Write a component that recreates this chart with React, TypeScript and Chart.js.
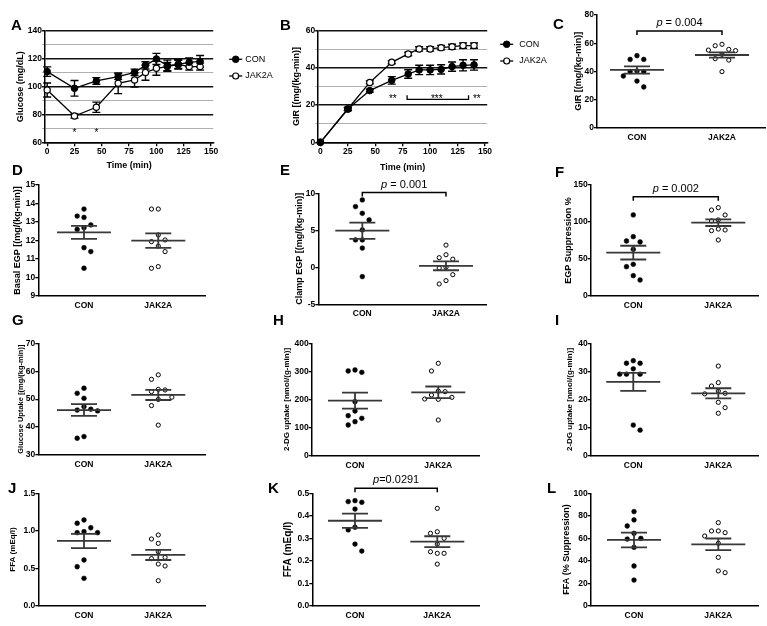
import React, { useEffect, useRef } from 'react';
import { Chart, registerables } from 'chart.js';

Chart.register(...registerables);

const FONT = "'Liberation Sans', Arial, Helvetica, sans-serif";
Chart.defaults.font.family = FONT;
Chart.defaults.color = '#000';

// ================= DATA =================
const GROUPS = ['CON', 'JAK2A'];
const TIME = [0, 25, 45, 65, 80, 90, 100, 110, 120, 130, 140];
const TIME_TICKS = [0, 25, 50, 75, 100, 125, 150];

// A: glucose during clamp
const glucoseCon = [110.8, 98.8, 104.1, 107.2, 110.3, 115.3, 119.9, 115.1, 116.0, 117.5, 118.2];
const glucoseConSem = [3.4, 5.6, 2.4, 2.0, 2.3, 2.6, 4.0, 4.0, 3.4, 3.2, 4.2];
const glucoseJak = [97.6, 78.9, 85.2, 102.4, 104.8, 110.1, 113.2, 114.4, 116.0, 114.4, 114.4];
const glucoseJakSem = [5.0, 1.5, 3.7, 7.4, 5.0, 5.5, 5.0, 3.0, 3.0, 2.5, 2.5];
const glucoseMajorTicks = [60, 80, 100, 120, 140];
const glucoseMinorTicks = [70, 90, 110, 130];
const glucoseStarTimes = [25, 45];
const glucoseStarTexts = ['*', '*'];
const glucoseStarLevel = 68.4;

// B: GIR time course
const girCourseCon = [0, 17.9, 27.8, 33.3, 36.7, 38.9, 38.9, 39.2, 40.7, 41.4, 41.6];
const girCourseConSem = [0, 0.8, 0.8, 2.0, 2.3, 2.5, 2.5, 2.5, 2.5, 3.0, 2.8];
const girCourseJak = [0, 17.9, 32.2, 43.0, 47.5, 50.2, 50.2, 50.9, 51.4, 52.0, 52.0];
const girCourseJakSem = [0, 0.8, 0.8, 0.8, 1.0, 1.2, 1.2, 1.2, 1.3, 1.4, 1.4];
const girCourseMajorTicks = [0, 20, 40, 60];
const girCourseMinorTicks = [10, 30, 50];
const girCourseStarTimes = [66, 106, 142.5];
const girCourseStarTexts = ['**', '***', '**'];
const girCourseStarLevel = 24.5;
const girCourseBracketTimes = [79, 135];
const girCourseBracketLevel = 23.1;

// C: GIR
const girCon = [48.5, 48.5, 51.1, 39.8, 40.2, 39.8, 36.7, 33.1, 28.9];
const girJak = [58.2, 59.2, 55.6, 54.7, 55.1, 52.1, 49.0, 48.0, 39.8];
const girMean = [41.0, 51.6];
const girSem = [2.6, 1.9];
const girTicks = [0, 20, 40, 60, 80];
const girP = '0.004';
const girPLevel = 68.6;

// D: basal EGP
const basalEgpCon = [13.7, 13.32, 13.25, 12.84, 12.69, 12.6, 11.61, 11.4, 10.5];
const basalEgpJak = [13.7, 13.7, 12.3, 11.94, 12.03, 11.7, 11.4, 10.5, 10.59];
const basalEgpMean = [12.44, 11.99];
const basalEgpSem = [0.35, 0.39];
const basalEgpTicks = [9, 10, 11, 12, 13, 14, 15];

// E: clamp EGP
const clampEgpCon = [9.1, 8.2, 7.3, 6.4, 5.05, 3.7, 3.7, 2.6, -1.26];
const clampEgpJak = [3.0, 1.3, 1.1, 1.7, -0.1, 0.0, -1.0, -1.8, -2.25];
const clampEgpMean = [4.95, 0.2];
const clampEgpSem = [1.1, 0.6];
const clampEgpTicks = [-5, 0, 5, 10];
const clampEgpP = '0.001';
const clampEgpPLevel = 10.1;

// F: EGP suppression
const egpSupCon = [109.5, 80.2, 74.3, 73.0, 63.1, 42.8, 39.6, 27.5, 21.6];
const egpSupJak = [119.4, 116.2, 109.5, 101.4, 102.7, 89.2, 88.3, 90.5, 75.7];
const egpSupMean = [58.6, 99.1];
const egpSupSem = [9.3, 4.5];
const egpSupTicks = [0, 50, 100, 150];
const egpSupP = '0.002';
const egpSupPLevel = 134.2;

// G: glucose uptake
const gluUptakeCon = [53.9, 52.1, 50.3, 47.3, 46.1, 45.8, 46.4, 36.0, 36.6];
const gluUptakeJak = [58.7, 57.1, 53.3, 52.7, 53.5, 50.7, 49.9, 47.7, 40.7];
const gluUptakeMean = [46.1, 51.5];
const gluUptakeSem = [2.1, 1.8];
const gluUptakeTicks = [30, 40, 50, 60, 70];

// H: 2-DG uptake (muscle)
const dgMuscleCon = [301.5, 296.7, 305.0, 192.3, 159.0, 133.0, 142.4, 109.2, 121.0];
const dgMuscleJak = [328.8, 301.5, 227.9, 230.0, 216.0, 201.8, 200.6, 207.7, 127.0];
const dgMuscleMean = [196, 225.5];
const dgMuscleSem = [28.4, 20.8];
const dgMuscleTicks = [0, 100, 200, 300, 400];

// I: 2-DG uptake (adipose)
const dgFatCon = [33.8, 32.9, 32.9, 30.9, 29.0, 29.0, 29.0, 10.9, 9.1];
const dgFatJak = [31.9, 26.0, 24.8, 23.0, 22.2, 22.0, 19.0, 17.1, 15.1];
const dgFatMean = [26.3, 22.2];
const dgFatSem = [3.2, 1.8];
const dgFatTicks = [0, 10, 20, 30, 40];

// J: basal FFA
const ffaBasalCon = [1.144, 1.1, 1.04, 0.988, 0.975, 0.975, 0.61, 0.52, 0.365];
const ffaBasalJak = [0.944, 0.89, 0.832, 0.72, 0.645, 0.628, 0.556, 0.53, 0.334];
const ffaBasalMean = [0.864, 0.677];
const ffaBasalSem = [0.095, 0.067];
const ffaBasalTicks = [0, 0.5, 1, 1.5];
const ffaBasalTickLabels = ['0.0', '0.5', '1.0', '1.5'];

// K: clamp FFA
const ffaClampCon = [0.463, 0.46, 0.467, 0.43, 0.337, 0.349, 0.274, 0.243];
const ffaClampJak = [0.433, 0.329, 0.322, 0.3, 0.274, 0.24, 0.233, 0.233, 0.185];
const ffaClampMean = [0.378, 0.285];
const ffaClampSem = [0.032, 0.024];
const ffaClampTicks = [0, 0.1, 0.2, 0.3, 0.4, 0.5];
const ffaClampTickLabels = ['0.0', '0.1', '0.2', '0.3', '0.4', '0.5'];
const ffaClampP = '0.0291';
const ffaClampPLevel = 0.522;

// L: FFA suppression
const ffaSupCon = [83.7, 76.3, 70.9, 64.4, 59.9, 59.3, 51.9, 35.3, 22.8];
const ffaSupJak = [73.9, 66.5, 65.0, 62.0, 66.5, 55.5, 43.0, 29.4, 30.9];
const ffaSupMean = [58.5, 54.6];
const ffaSupSem = [6.6, 5.2];
const ffaSupTicks = [0, 20, 40, 60, 80, 100];

// ================= STYLE / LAYOUT =================
const TICK_FONT = { family: FONT, size: 8.5, weight: 'bold' as const };
const MEAN_HALF = 27;
const CAP_HALF = 13;
const SWARM_STEP = 6.8;
const SWARM_DY = 8;

type Layout = {
  axisX: number; right: number; top: number; bottom: number;
  titleX: number; titleSize?: number; xTitleY?: number; extraRight?: number;
};

function geom(L: Layout) {
  const tSize = L.titleSize ?? 9;
  const lh = tSize * 1.2;
  const left = Math.floor(L.titleX - lh / 2 - 1);
  const titlePad = L.titleX - lh / 2 - left;
  const yw = L.axisX - left;
  const top = Math.floor(L.top - 22);
  const padTop = L.top - top;
  const xh = L.xTitleY ? L.xTitleY - L.bottom + 5.4 : 18;
  const h = Math.ceil(L.bottom - top + xh + 2);
  const padBottom = h - (L.bottom - top) - xh;
  const w = Math.ceil(L.right - left + (L.extraRight ?? 6));
  const padRight = w - (L.right - left);
  return { left, top, w, h, yw, xh, padTop, padBottom, padRight, titlePad, tSize };
}
type Geom = ReturnType<typeof geom>;

// spreads overlapping points of a column sideways (beeswarm), positions come from the scales
const swarmPlugin = {
  id: 'swarm',
  afterDatasetsUpdate(chart: any) {
    chart.data.datasets.forEach((_: any, di: number) => {
      const meta = chart.getDatasetMeta(di);
      const pts = meta.data.map((el: any) => ({ el, y: el.y, cx: el.x }));
      const order = [...pts].sort((a, b) => a.y - b.y);
      const placed: { x: number; y: number }[] = [];
      let flip = 1;
      for (const p of order) {
        for (let k = 0; k < 30; k++) {
          const off = k === 0 ? 0 : (k % 2 === 1 ? -flip : flip) * Math.ceil(k / 2) * SWARM_STEP;
          const x = p.cx + off;
          const ok = placed.every((q) => Math.abs(q.x - x) >= SWARM_STEP * 0.95 || Math.abs(q.y - p.y) >= SWARM_DY);
          if (ok) {
            p.el.x = x;
            placed.push({ x, y: p.y });
            if (k > 0) flip = -flip;
            break;
          }
        }
      }
    });
  },
};

function drawPText(ctx: CanvasRenderingContext2D, cx: number, cy: number, rest: string) {
  ctx.textBaseline = 'middle';
  ctx.textAlign = 'left';
  ctx.font = `italic 11px ${FONT}`;
  const wp = ctx.measureText('p').width;
  ctx.font = `11px ${FONT}`;
  const wr = ctx.measureText(rest).width;
  const x0 = cx - (wp + wr) / 2;
  ctx.fillStyle = '#000';
  ctx.font = `italic 11px ${FONT}`;
  ctx.fillText('p', x0, cy);
  ctx.font = `11px ${FONT}`;
  ctx.fillText(rest, x0 + wp, cy);
}

type ScatterSpec = {
  con: number[]; jak: number[]; mean: number[]; sem: number[];
  ticks: number[]; tickLabels?: string[]; title: string;
  xMin: number; xMax: number; p?: string; pLevel?: number; pCompact?: boolean;
};

function statsPlugin(s: ScatterSpec) {
  return {
    id: 'stats',
    afterDatasetsDraw(chart: any) {
      const { ctx } = chart;
      const x = chart.scales.x;
      const y = chart.scales.y;
      ctx.save();
      ctx.strokeStyle = '#383838';
      ctx.lineWidth = 1.8;
      [0, 1].forEach((i) => {
        const cx = x.getPixelForValue(i);
        const my = y.getPixelForValue(s.mean[i]);
        const hi = y.getPixelForValue(s.mean[i] + s.sem[i]);
        const lo = y.getPixelForValue(s.mean[i] - s.sem[i]);
        ctx.beginPath();
        ctx.moveTo(cx - MEAN_HALF, my); ctx.lineTo(cx + MEAN_HALF, my);
        ctx.moveTo(cx, hi); ctx.lineTo(cx, lo);
        ctx.moveTo(cx - CAP_HALF, hi); ctx.lineTo(cx + CAP_HALF, hi);
        ctx.moveTo(cx - CAP_HALF, lo); ctx.lineTo(cx + CAP_HALF, lo);
        ctx.stroke();
      });
      if (s.p && s.pLevel !== undefined) {
        const x1 = x.getPixelForValue(0);
        const x2 = x.getPixelForValue(1);
        const py = y.getPixelForValue(s.pLevel);
        ctx.strokeStyle = '#000';
        ctx.lineWidth = 1.5;
        ctx.beginPath();
        ctx.moveTo(x1, py + 4); ctx.lineTo(x1, py); ctx.lineTo(x2, py); ctx.lineTo(x2, py + 4);
        ctx.stroke();
        drawPText(ctx, (x1 + x2) / 2, py - 8, s.pCompact ? `=${s.p}` : ` = ${s.p}`);
      }
      ctx.restore();
    },
  };
}

function scatterConfig(g: Geom, s: ScatterSpec): any {
  const lo = s.ticks[0];
  const hi = s.ticks[s.ticks.length - 1];
  return {
    type: 'scatter',
    data: {
      datasets: [
        { label: 'CON', data: s.con.map((v) => ({ x: 0, y: v })), pointRadius: 2.4, pointBackgroundColor: '#000', pointBorderColor: '#000', pointBorderWidth: 0.5, clip: false },
        { label: 'JAK2A', data: s.jak.map((v) => ({ x: 1, y: v })), pointRadius: 2.1, pointBackgroundColor: '#fff', pointBorderColor: '#000', pointBorderWidth: 1, clip: false },
      ],
    },
    options: {
      responsive: false, animation: false, events: [],
      layout: { padding: { left: 0, top: g.padTop, right: g.padRight, bottom: g.padBottom } },
      plugins: { legend: { display: false }, tooltip: { enabled: false } },
      scales: {
        x: {
          type: 'linear', min: s.xMin, max: s.xMax,
          afterBuildTicks: (sc: any) => { sc.ticks = [0, 1].map((v) => ({ value: v })); },
          afterFit: (sc: any) => { sc.height = g.xh; },
          ticks: { callback: (v: number) => GROUPS[v] ?? '', font: TICK_FONT, color: '#000', padding: 4.4, maxRotation: 0, autoSkip: false },
          grid: { display: true, drawOnChartArea: false, drawTicks: false },
          border: { display: true, color: '#000', width: 1.5 },
        },
        y: {
          type: 'linear', min: lo, max: hi,
          afterBuildTicks: (sc: any) => { sc.ticks = s.ticks.map((v) => ({ value: v })); },
          afterFit: (sc: any) => { sc.width = g.yw; },
          ticks: {
            callback: (v: number) => { const i = s.ticks.indexOf(v); return s.tickLabels ? s.tickLabels[i] : String(v); },
            font: TICK_FONT, color: '#000', padding: 0, autoSkip: false,
          },
          grid: { drawOnChartArea: false, drawTicks: true, tickLength: 3, color: '#000', lineWidth: 1.3 },
          border: { display: true, color: '#000', width: 1.5 },
          title: { display: true, text: s.title, color: '#000', font: { family: FONT, size: g.tSize, weight: 'bold' }, padding: { top: g.titlePad, bottom: 0 } },
        },
      },
    },
    plugins: [swarmPlugin, statsPlugin(s)],
  };
}

type LineSpec = {
  con: number[]; conSem: number[]; jak: number[]; jakSem: number[];
  major: number[]; minor: number[]; title: string;
  starTimes: number[]; starTexts: string[]; starLevel: number;
  bracketTimes?: number[]; bracketLevel?: number;
  legend: { x1: number; x2: number; mx: number; tx: number; ys: number[] };
};

function linePlugin(s: LineSpec) {
  return {
    id: 'lineExtras',
    beforeDatasetsDraw(chart: any) {
      const { ctx } = chart;
      const x = chart.scales.x;
      const y = chart.scales.y;
      ctx.save();
      ctx.strokeStyle = '#000';
      ctx.lineWidth = 1.4;
      [[s.con, s.conSem], [s.jak, s.jakSem]].forEach(([vals, sems]) => {
        vals.forEach((v, j) => {
          const e = sems[j];
          if (!e) return;
          const px = x.getPixelForValue(TIME[j]);
          const y1 = y.getPixelForValue(v + e);
          const y2 = y.getPixelForValue(v - e);
          ctx.beginPath();
          ctx.moveTo(px, y1); ctx.lineTo(px, y2);
          ctx.moveTo(px - 4, y1); ctx.lineTo(px + 4, y1);
          ctx.moveTo(px - 4, y2); ctx.lineTo(px + 4, y2);
          ctx.stroke();
        });
      });
      ctx.restore();
    },
    afterDatasetsDraw(chart: any) {
      const { ctx, chartArea } = chart;
      const x = chart.scales.x;
      const y = chart.scales.y;
      ctx.save();
      ctx.fillStyle = '#000';
      ctx.font = `10px ${FONT}`;
      ctx.textAlign = 'center';
      ctx.textBaseline = 'middle';
      const sy = y.getPixelForValue(s.starLevel);
      s.starTimes.forEach((t, i) => {
        ctx.fillText(s.starTexts[i], x.getPixelForValue(t), sy + 2.5);
      });
      if (s.bracketTimes && s.bracketLevel !== undefined) {
        const by = y.getPixelForValue(s.bracketLevel);
        const bx1 = x.getPixelForValue(s.bracketTimes[0]);
        const bx2 = x.getPixelForValue(s.bracketTimes[1]);
        ctx.strokeStyle = '#000';
        ctx.lineWidth = 1.3;
        ctx.beginPath();
        ctx.moveTo(bx1, by - 4); ctx.lineTo(bx1, by); ctx.lineTo(bx2, by); ctx.lineTo(bx2, by - 4);
        ctx.stroke();
      }
      // legend
      const L = s.legend;
      ctx.textAlign = 'left';
      ctx.font = `9px ${FONT}`;
      GROUPS.forEach((name, i) => {
        const ly = chartArea.top + L.ys[i];
        ctx.strokeStyle = '#000';
        ctx.lineWidth = 1.3;
        ctx.beginPath();
        ctx.moveTo(chartArea.right + L.x1, ly); ctx.lineTo(chartArea.right + L.x2, ly);
        ctx.stroke();
        ctx.beginPath();
        ctx.arc(chartArea.right + L.mx, ly, i === 0 ? 3.3 : 3.0, 0, Math.PI * 2);
        ctx.fillStyle = i === 0 ? '#000' : '#fff';
        ctx.fill();
        ctx.lineWidth = i === 0 ? 1 : 1.2;
        ctx.stroke();
        ctx.fillStyle = '#000';
        ctx.fillText(name, chartArea.right + L.tx, ly);
      });
      ctx.restore();
    },
  };
}

function lineConfig(g: Geom, s: LineSpec): any {
  const pts = (arr: number[]) => TIME.map((t, i) => ({ x: t, y: arr[i] }));
  const all = [...s.major, ...s.minor].sort((a, b) => a - b);
  return {
    type: 'line',
    data: {
      datasets: [
        { label: 'CON', data: pts(s.con), borderColor: '#000', borderWidth: 1.3, pointRadius: 3.3, pointBackgroundColor: '#000', pointBorderColor: '#000', pointBorderWidth: 1, tension: 0, fill: false, clip: false },
        { label: 'JAK2A', data: pts(s.jak), borderColor: '#000', borderWidth: 1.3, pointRadius: 3.1, pointBackgroundColor: '#fff', pointBorderColor: '#000', pointBorderWidth: 1.2, tension: 0, fill: false, clip: false },
      ],
    },
    options: {
      responsive: false, animation: false, events: [],
      layout: { padding: { left: 0, top: g.padTop, right: g.padRight, bottom: g.padBottom } },
      plugins: { legend: { display: false }, tooltip: { enabled: false } },
      scales: {
        x: {
          type: 'linear', min: -2, max: 152,
          afterBuildTicks: (sc: any) => { sc.ticks = TIME_TICKS.map((v) => ({ value: v })); },
          afterFit: (sc: any) => { sc.height = g.xh; },
          ticks: { callback: (v: number) => String(v), font: TICK_FONT, color: '#000', padding: 0, maxRotation: 0, autoSkip: false },
          grid: { display: true, drawOnChartArea: false, drawTicks: true, tickLength: 4, color: '#000', lineWidth: 1.3 },
          border: { display: true, color: '#000', width: 1.5 },
          title: { display: true, text: 'Time (min)', color: '#000', font: { family: FONT, size: 9, weight: 'bold' }, padding: { top: 0, bottom: 0 } },
        },
        y: {
          type: 'linear', min: all[0], max: all[all.length - 1],
          afterBuildTicks: (sc: any) => { sc.ticks = all.map((v) => ({ value: v })); },
          afterFit: (sc: any) => { sc.width = g.yw; },
          ticks: { callback: (v: number) => (s.major.includes(v) ? String(v) : ''), font: TICK_FONT, color: '#000', padding: 0, autoSkip: false },
          grid: {
            drawOnChartArea: true, drawTicks: true, tickLength: 3,
            color: (c: any) => (c.tick && s.major.includes(c.tick.value) ? '#111' : '#b0b0b0'),
            lineWidth: (c: any) => (c.tick && s.major.includes(c.tick.value) ? 1.4 : 1),
          },
          border: { display: true, color: '#000', width: 1.5 },
          title: { display: true, text: s.title, color: '#000', font: { family: FONT, size: g.tSize, weight: 'bold' }, padding: { top: g.titlePad, bottom: 0 } },
        },
      },
    },
    plugins: [linePlugin(s)],
  };
}

// ================= PANELS =================
type PanelDef = { key: string; layout: Layout; make: (g: Geom) => any };

const PANELS: PanelDef[] = [
  {
    key: 'A', layout: { axisX: 45, right: 213.2, top: 31, bottom: 142.3, titleX: 21, xTitleY: 166, extraRight: 62 },
    make: (g) => lineConfig(g, {
      con: glucoseCon, conSem: glucoseConSem, jak: glucoseJak, jakSem: glucoseJakSem,
      major: glucoseMajorTicks, minor: glucoseMinorTicks, title: 'Glucose (mg/dL)',
      starTimes: glucoseStarTimes, starTexts: glucoseStarTexts, starLevel: glucoseStarLevel,
      legend: { x1: 16, x2: 29, mx: 22.5, tx: 32, ys: [28.3, 45] },
    }),
  },
  {
    key: 'B', layout: { axisX: 318.2, right: 487.2, top: 30.7, bottom: 142.3, titleX: 297, xTitleY: 168, extraRight: 62 },
    make: (g) => lineConfig(g, {
      con: girCourseCon, conSem: girCourseConSem, jak: girCourseJak, jakSem: girCourseJakSem,
      major: girCourseMajorTicks, minor: girCourseMinorTicks, title: 'GIR [(mg/(kg-min)]',
      starTimes: girCourseStarTimes, starTexts: girCourseStarTexts, starLevel: girCourseStarLevel,
      bracketTimes: girCourseBracketTimes, bracketLevel: girCourseBracketLevel,
      legend: { x1: 13, x2: 26, mx: 19.5, tx: 32, ys: [13.6, 30.3] },
    }),
  },
  {
    key: 'C', layout: { axisX: 597, right: 765, top: 15, bottom: 127.7, titleX: 579 },
    make: (g) => scatterConfig(g, { con: girCon, jak: girJak, mean: girMean, sem: girSem, ticks: girTicks, title: 'GIR [(mg/(kg-min)]', xMin: -0.47, xMax: 1.506, p: girP, pLevel: girPLevel }),
  },
  {
    key: 'D', layout: { axisX: 38.3, right: 205, top: 185, bottom: 296, titleX: 18 },
    make: (g) => scatterConfig(g, { con: basalEgpCon, jak: basalEgpJak, mean: basalEgpMean, sem: basalEgpSem, ticks: basalEgpTicks, title: 'Basal EGP [(mg/(kg-min)]', xMin: -0.615, xMax: 1.629 }),
  },
  {
    key: 'E', layout: { axisX: 318.3, right: 486, top: 193.3, bottom: 304.3, titleX: 300 },
    make: (g) => scatterConfig(g, { con: clampEgpCon, jak: clampEgpJak, mean: clampEgpMean, sem: clampEgpSem, ticks: clampEgpTicks, title: 'Clamp EGP [(mg/(kg-min)]', xMin: -0.526, xMax: 1.478, p: clampEgpP, pLevel: clampEgpPLevel }),
  },
  {
    key: 'F', layout: { axisX: 590.7, right: 758, top: 185, bottom: 296, titleX: 569 },
    make: (g) => scatterConfig(g, { con: egpSupCon, jak: egpSupJak, mean: egpSupMean, sem: egpSupSem, ticks: egpSupTicks, title: 'EGP Suppression %', xMin: -0.501, xMax: 1.467, p: egpSupP, pLevel: egpSupPLevel }),
  },
  {
    key: 'G', layout: { axisX: 38.3, right: 205, top: 343.3, bottom: 455, titleX: 21, titleSize: 7.5 },
    make: (g) => scatterConfig(g, { con: gluUptakeCon, jak: gluUptakeJak, mean: gluUptakeMean, sem: gluUptakeSem, ticks: gluUptakeTicks, title: 'Glucose Uptake [(mg/(kg-min)]', xMin: -0.615, xMax: 1.629 }),
  },
  {
    key: 'H', layout: { axisX: 311.7, right: 479, top: 343.3, bottom: 455.7, titleX: 287, titleSize: 8 },
    make: (g) => scatterConfig(g, { con: dgMuscleCon, jak: dgMuscleJak, mean: dgMuscleMean, sem: dgMuscleSem, ticks: dgMuscleTicks, title: '2-DG uptake [nmol/(g-min)]', xMin: -0.52, xMax: 1.489 }),
  },
  {
    key: 'I', layout: { axisX: 590.7, right: 758, top: 343.3, bottom: 455.7, titleX: 570, titleSize: 8 },
    make: (g) => scatterConfig(g, { con: dgFatCon, jak: dgFatJak, mean: dgFatMean, sem: dgFatSem, ticks: dgFatTicks, title: '2-DG uptake [nmol/(g-min)]', xMin: -0.501, xMax: 1.467 }),
  },
  {
    key: 'J', layout: { axisX: 38.3, right: 205, top: 493.3, bottom: 605.7, titleX: 13, titleSize: 8 },
    make: (g) => scatterConfig(g, { con: ffaBasalCon, jak: ffaBasalJak, mean: ffaBasalMean, sem: ffaBasalSem, ticks: ffaBasalTicks, tickLabels: ffaBasalTickLabels, title: 'FFA (mEq/l)', xMin: -0.615, xMax: 1.629 }),
  },
  {
    key: 'K', layout: { axisX: 312.3, right: 479, top: 493.3, bottom: 605.7, titleX: 288, titleSize: 10 },
    make: (g) => scatterConfig(g, { con: ffaClampCon, jak: ffaClampJak, mean: ffaClampMean, sem: ffaClampSem, ticks: ffaClampTicks, tickLabels: ffaClampTickLabels, title: 'FFA (mEq/l)', xMin: -0.519, xMax: 1.507, p: ffaClampP, pLevel: ffaClampPLevel, pCompact: true }),
  },
  {
    key: 'L', layout: { axisX: 590.7, right: 758, top: 493.3, bottom: 605.7, titleX: 567 },
    make: (g) => scatterConfig(g, { con: ffaSupCon, jak: ffaSupJak, mean: ffaSupMean, sem: ffaSupSem, ticks: ffaSupTicks, title: 'FFA (% Suppression)', xMin: -0.514, xMax: 1.471 }),
  },
];

const LETTERS: [string, number, number][] = [
  ['A', 11, 24], ['B', 280, 24], ['C', 553, 23],
  ['D', 12, 169], ['E', 280, 169], ['F', 555, 171],
  ['G', 12, 319], ['H', 273, 319], ['I', 555, 319],
  ['J', 8, 487], ['K', 268, 487], ['L', 547, 487],
];

function Panel({ def }: { def: PanelDef }) {
  const ref = useRef<HTMLCanvasElement>(null);
  const g = geom(def.layout);
  useEffect(() => {
    if (!ref.current) return;
    const chart = new Chart(ref.current, def.make(g));
    return () => chart.destroy();
  }, []);
  return (
    <canvas
      ref={ref}
      width={g.w}
      height={g.h}
      style={{ position: 'absolute', left: g.left, top: g.top, width: g.w, height: g.h }}
    />
  );
}

export default function App() {
  return (
    <div style={{ position: 'absolute', left: 0, top: 0, width: 767, height: 626, overflow: 'hidden', background: '#fff' }}>
      {PANELS.map((p) => <Panel key={p.key} def={p} />)}
      {LETTERS.map(([t, x, cy]) => (
        <div key={t} style={{ position: 'absolute', left: x, top: cy - 7.3, fontFamily: FONT, fontWeight: 'bold', fontSize: 15, lineHeight: '15px', color: '#000' }}>{t}</div>
      ))}
    </div>
  );
}
